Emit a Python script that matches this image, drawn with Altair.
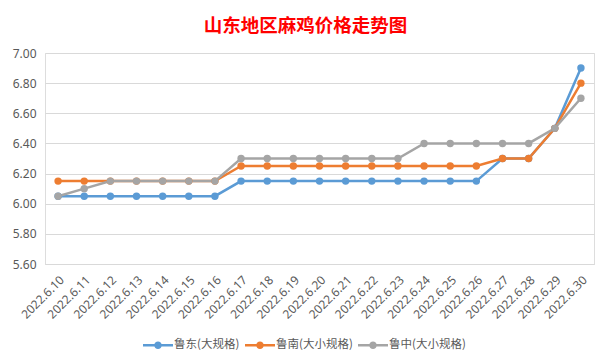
import altair as alt
import pandas as pd

dates = ["2022.6.10", "2022.6.11", "2022.6.12", "2022.6.13", "2022.6.14", "2022.6.15",
         "2022.6.16", "2022.6.17", "2022.6.18", "2022.6.19", "2022.6.20", "2022.6.21",
         "2022.6.22", "2022.6.23", "2022.6.24", "2022.6.25", "2022.6.26", "2022.6.27",
         "2022.6.28", "2022.6.29", "2022.6.30"]
series_names = ["鲁东(大规格)", "鲁南(大小规格)", "鲁中(大小规格)"]
ludong = [6.05, 6.05, 6.05, 6.05, 6.05, 6.05, 6.05, 6.15, 6.15, 6.15, 6.15,
          6.15, 6.15, 6.15, 6.15, 6.15, 6.15, 6.30, 6.30, 6.50, 6.90]
lunan = [6.15, 6.15, 6.15, 6.15, 6.15, 6.15, 6.15, 6.25, 6.25, 6.25, 6.25,
         6.25, 6.25, 6.25, 6.25, 6.25, 6.25, 6.30, 6.30, 6.50, 6.80]
luzhong = [6.05, 6.10, 6.15, 6.15, 6.15, 6.15, 6.15, 6.30, 6.30, 6.30, 6.30,
           6.30, 6.30, 6.30, 6.40, 6.40, 6.40, 6.40, 6.40, 6.50, 6.70]
colors = ["#5B9BD5", "#ED7D31", "#A5A5A5"]
y_ticks = [5.6, 5.8, 6.0, 6.2, 6.4, 6.6, 6.8, 7.0]
title_text = "山东地区麻鸡价格走势图"

rows = []
for name, vals in zip(series_names, [ludong, lunan, luzhong]):
    for d, v in zip(dates, vals):
        rows.append({"date": d, "series": name, "price": v})
df = pd.DataFrame(rows)

x = alt.X("date:O", sort=dates, title=None,
          scale=alt.Scale(padding=0.5),
          axis=alt.Axis(labelAngle=-45, labelFontSize=12, labelColor="#595959",
                        labelFont="Noto Sans", domainColor="#D9D9D9", ticks=False,
                        grid=False, labelPadding=10))
y = alt.Y("price:Q", title=None,
          scale=alt.Scale(domain=[5.6, 7.0], nice=False, zero=False),
          axis=alt.Axis(values=y_ticks, format=".2f", grid=True, gridColor="#D9D9D9",
                        domain=False, ticks=False, labelPadding=9, labelFontSize=12,
                        labelFont="Noto Sans", labelColor="#595959"))

legend_symbol = ("M-1,-0.08 L1,-0.08 L1,0.08 L-1,0.08 Z "
                 "M-0.25,0 A0.25,0.25 0 1,1 0.25,0 A0.25,0.25 0 1,1 -0.25,0 Z")

legend = alt.Legend(orient="none", legendX=98, legendY=277,
                    direction="horizontal", title=None,
                    symbolType=legend_symbol, symbolSize=900,
                    symbolStrokeWidth=0, labelFont="Noto Sans CJK SC",
                    labelFontSize=11.5, labelColor="#595959",
                    columnPadding=5, labelOffset=1, padding=0)
color_scale = alt.Scale(domain=series_names, range=colors)

lines = alt.Chart(df).mark_line(strokeWidth=2.5).encode(
    x=x, y=y,
    color=alt.Color("series:N", sort=series_names, scale=color_scale, legend=legend),
)
points = alt.Chart(df).mark_point(filled=True, size=55, opacity=1, strokeWidth=0).encode(
    x=x, y=y,
    color=alt.Color("series:N", sort=series_names, scale=color_scale, legend=legend),
)

chart = alt.layer(lines, points).properties(
    width=549, height=211,
    autosize=alt.AutoSizeParams(type="none"),
    padding={"left": 37, "top": 45, "right": 11, "bottom": 100},
    title=alt.TitleParams(title_text, font="Noto Sans CJK SC", fontSize=18.5,
                          fontWeight="bold", color="#FF0000", anchor="middle",
                          dx=-14, offset=12),
).configure_view(stroke=None).configure(background="white")

chart.save("out.html", embed_options={"renderer": "svg", "actions": False})
